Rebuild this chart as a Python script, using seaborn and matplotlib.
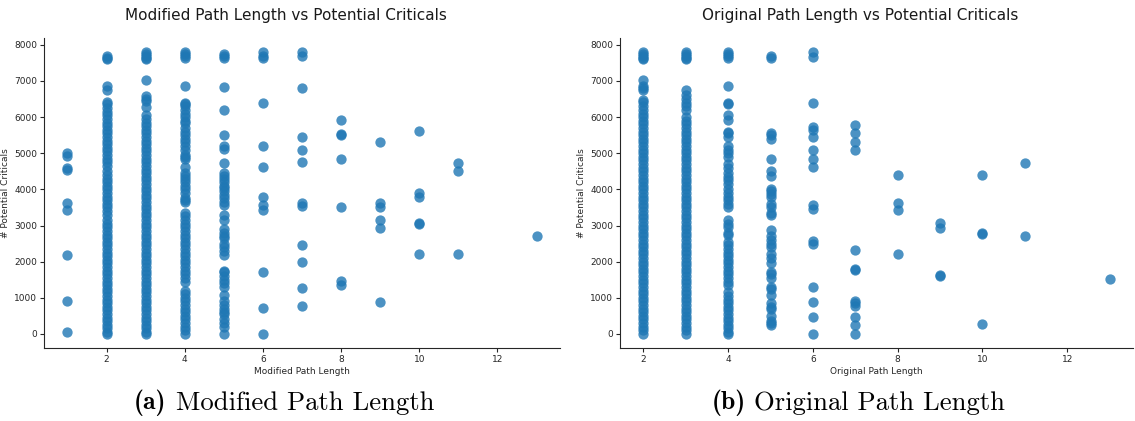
import pandas as pd
import matplotlib
matplotlib.use('Agg')
import matplotlib.pyplot as plt
import seaborn as sns

# "# Potential Criticals" per path length
# Modified path length panel
mod_len1 = [5000, 4930, 4600, 4540, 3620, 3430, 2180, 920, 40]
mod_len2 = [7700, 7650, 7600, 6860, 6750, 6430, 6350, 6250, 6150, 6050, 5950, 5850,
            5750, 5650, 5550, 5450, 5350, 5250, 5150, 5050, 4950, 4850, 4750, 4650,
            4500, 4400, 4300, 4200, 4100, 4000, 3900, 3800, 3700, 3600, 3500, 3400,
            3300, 3150, 3050, 2950, 2850, 2750, 2650, 2550, 2450, 2350, 2250, 2150,
            2050, 1950, 1850, 1750, 1650, 1550, 1450, 1350, 1250, 1150, 1050, 950,
            850, 750, 650, 550, 450, 350, 250, 150, 50, 0]
mod_len3 = [7800, 7750, 7700, 7650, 7600, 7030, 6590, 6500, 6450, 6270, 6050, 5950,
            5850, 5750, 5650, 5550, 5450, 5350, 5250, 5150, 5050, 4950, 4850, 4750,
            4650, 4550, 4450, 4350, 4250, 4150, 4050, 3950, 3850, 3750, 3650, 3550,
            3450, 3350, 3250, 3150, 3050, 2950, 2850, 2750, 2650, 2550, 2450, 2350,
            2250, 2150, 2050, 1950, 1850, 1750, 1650, 1550, 1450, 1350, 1250, 1150,
            1050, 950, 850, 750, 650, 550, 450, 350, 250, 150, 50, 0]
mod_len4 = [7800, 7750, 7700, 7650, 6850, 6400, 6350, 6300, 6200, 6100, 6000, 5900,
            5850, 5700, 5600, 5500, 5400, 5300, 5200, 5100, 4950, 4900, 4850, 4630,
            4450, 4380, 4300, 4200, 4100, 4000, 3900, 3750, 3700, 3650, 3360, 3250,
            3150, 3050, 2950, 2850, 2750, 2650, 2550, 2450, 2350, 2250, 2150, 2050,
            1950, 1850, 1750, 1650, 1550, 1450, 1200, 1100, 1000, 900, 800, 700,
            600, 500, 400, 300, 200, 100, 0]
mod_len5 = [7750, 7700, 7650, 6830, 6200, 5510, 5190, 5130, 4720, 4450, 4380, 4300,
            4200, 4100, 4050, 3950, 3850, 3750, 3650, 3570, 3300, 3140, 2900, 2800,
            2700, 2650, 2500, 2400, 2300, 2180, 1750, 1700, 1600, 1500, 1400, 1300,
            1080, 900, 800, 700, 600, 550, 400, 300, 200, 0]
mod_len6 = [7790, 7700, 7650, 6390, 5200, 4610, 3800, 3570, 3430, 1700, 720, 0]
mod_len7 = [7790, 7700, 6800, 5450, 5090, 4760, 3620, 3530, 2450, 1990, 1260, 770]
mod_len8 = [5930, 5540, 5500, 4840, 3520, 1470, 1350]
mod_len9 = [5310, 3620, 3500, 3140, 2930, 870]
mod_len10 = [5620, 3890, 3790, 3060, 3040, 2210]
mod_len11 = [4740, 4510, 2210]
mod_len13 = [2720]

# Original path length panel
orig_len2 = [7800, 7750, 7700, 7650, 7600, 7030, 6850, 6800, 6750, 6470, 6420, 6300,
             6200, 6100, 6000, 5900, 5800, 5700, 5600, 5500, 5400, 5300, 5200, 5100,
             5000, 4900, 4800, 4700, 4600, 4500, 4400, 4300, 4200, 4100, 4000, 3900,
             3800, 3700, 3600, 3500, 3400, 3300, 3200, 3100, 3000, 2900, 2800, 2700,
             2600, 2500, 2400, 2300, 2200, 2100, 2000, 1900, 1800, 1700, 1600, 1500,
             1400, 1300, 1200, 1100, 1000, 900, 800, 700, 600, 500, 400, 300, 200,
             100, 0]
orig_len3 = [7800, 7750, 7700, 7650, 7600, 6750, 6600, 6500, 6400, 6300, 6200, 6000,
             5900, 5800, 5700, 5600, 5500, 5400, 5300, 5200, 5100, 5000, 4900, 4800,
             4700, 4600, 4500, 4400, 4300, 4200, 4100, 4000, 3900, 3800, 3700, 3600,
             3500, 3400, 3300, 3200, 3100, 3000, 2900, 2800, 2700, 2600, 2500, 2400,
             2300, 2200, 2100, 2000, 1900, 1800, 1700, 1600, 1500, 1400, 1300, 1200,
             1100, 1000, 900, 800, 700, 600, 500, 400, 300, 200, 100, 0]
orig_len4 = [7800, 7750, 7700, 7650, 6850, 6400, 6350, 6060, 5920, 5600, 5550, 5450,
             5200, 5100, 5000, 4900, 4700, 4600, 4450, 4350, 4250, 4150, 4000, 3900,
             3800, 3700, 3600, 3500, 3150, 3050, 2950, 2800, 2750, 2550, 2450, 2350,
             2250, 2150, 2050, 1950, 1850, 1750, 1650, 1550, 1450, 1350, 1150, 1050,
             950, 850, 750, 650, 550, 450, 350, 250, 150, 50, 0]
orig_len5 = [7700, 7650, 5560, 5500, 5390, 4840, 4520, 4370, 4000, 3950, 3870, 3800,
             3600, 3500, 3350, 3280, 2880, 2700, 2600, 2500, 2400, 2200, 2100, 1950,
             1700, 1650, 1540, 1300, 1250, 1080, 850, 750, 700, 500, 350, 300, 250]
orig_len6 = [7790, 7660, 6390, 5720, 5650, 5440, 5090, 4840, 4610, 3580, 3450, 2560,
             2490, 1290, 870, 480, 0]
orig_len7 = [5780, 5560, 5310, 5080, 2330, 1790, 1770, 920, 850, 760, 460, 250, 0]
orig_len8 = [4410, 3610, 3430, 2210]
orig_len9 = [3060, 2930, 1630, 1590]
orig_len10 = [4410, 2800, 2770, 270]
orig_len11 = [4740, 2720]
orig_len13 = [1520]

mod_cols = {1: mod_len1, 2: mod_len2, 3: mod_len3, 4: mod_len4, 5: mod_len5,
            6: mod_len6, 7: mod_len7, 8: mod_len8, 9: mod_len9, 10: mod_len10,
            11: mod_len11, 13: mod_len13}
orig_cols = {2: orig_len2, 3: orig_len3, 4: orig_len4, 5: orig_len5, 6: orig_len6,
             7: orig_len7, 8: orig_len8, 9: orig_len9, 10: orig_len10,
             11: orig_len11, 13: orig_len13}


def to_frame(cols, name):
    rows = [(k, v) for k, vals in cols.items() for v in vals]
    return pd.DataFrame(rows, columns=[name, 'crit'])


mod_df = to_frame(mod_cols, 'Modified Path Length')
orig_df = to_frame(orig_cols, 'Original Path Length')

sns.set_style('ticks')

W, H = 1135, 421
fig = plt.figure(figsize=(W / 100, H / 100), dpi=100)
ax1 = fig.add_axes([44 / W, 73 / H, 516 / W, 310 / H])
ax2 = fig.add_axes([620 / W, 73 / H, 513 / W, 310 / H])

panels = [
    (ax1, mod_df, 'Modified Path Length', 'Modified Path Length vs Potential Criticals',
     '(a)', 134),
    (ax2, orig_df, 'Original Path Length', 'Original Path Length vs Potential Criticals',
     '(b)', 712),
]

for ax, df, xcol, title, tag, tag_x in panels:
    sns.scatterplot(data=df, x=xcol, y='crit', ax=ax, color='#1f77b4',
                    s=55, alpha=0.8, linewidth=0)
    ax.set_xticks([2, 4, 6, 8, 10, 12])
    ax.set_yticks(range(0, 8001, 1000))
    ax.tick_params(labelsize=6.5, length=3, width=0.8, pad=2, colors='#262626')
    ax.set_xlabel(xcol, fontsize=6.5, labelpad=2)
    ax.set_ylabel('# Potential Criticals', fontsize=6.5, labelpad=3)
    ax.set_title(title, fontsize=11, pad=13, color='#1a1a1a', x=0.468)
    sns.despine(ax=ax)
    # LaTeX style sub-figure caption below each panel
    fig.text(tag_x / W, 1 - 403 / H, tag, ha='left', va='center',
             fontsize=18.5, family='cmb10', color='black')
    fig.text((tag_x + 42) / W, 1 - 403 / H, xcol, ha='left', va='center',
             fontsize=19.2, family='cmr10', color='black')

fig.savefig('out.png', dpi=100)
